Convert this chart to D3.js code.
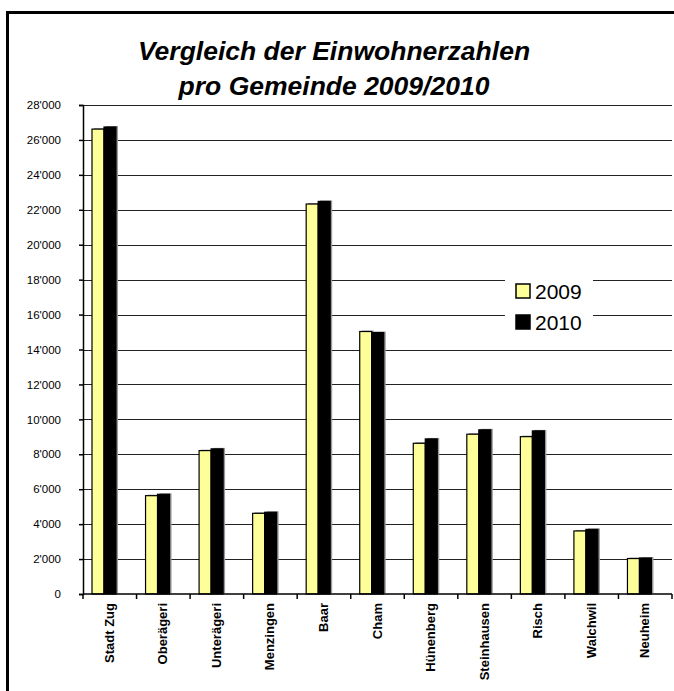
<!DOCTYPE html>
<html>
<head>
<meta charset="utf-8">
<script src="https://unpkg.com/d3@7/dist/d3.min.js"></script>
<style>
  html, body { margin: 0; padding: 0; background: #fff; overflow: hidden; }
  svg { display: block; font-family: Arial, "Liberation Sans", sans-serif; }
</style>
</head>
<body>
<div id="chart"></div>
<script>
// data
const gemeinden = ["Stadt Zug", "Oberägeri", "Unterägeri", "Menzingen", "Baar", "Cham",
                   "Hünenberg", "Steinhausen", "Risch", "Walchwil", "Neuheim"];
const years = ["2009", "2010"];
const values2009 = [26620, 5630, 8210, 4620, 22330, 15030, 8630, 9150, 9010, 3610, 2030];
const values2010 = [26740, 5710, 8310, 4680, 22480, 14970, 8880, 9400, 9340, 3700, 2060];
const yTicks = d3.range(0, 28001, 2000);
const colors = { "2009": "#ffff99", "2010": "#000000" };

const W = 674, H = 691;
const margin = { top: 105, right: 2, bottom: 97, left: 83 };

const svg = d3.select("#chart").append("svg")
  .attr("width", W)
  .attr("height", H);

// outer frame: only left and top edges are inside the picture
svg.append("path")
  .attr("d", `M7.5,${H + 10}V12.5H${W + 10}`)
  .attr("fill", "none")
  .attr("stroke", "#000")
  .attr("stroke-width", 3);

// title
const title = svg.append("text")
  .attr("text-anchor", "middle")
  .attr("font-weight", "bold")
  .attr("font-style", "italic")
  .attr("font-size", 26.5);
title.append("tspan").attr("x", 334).attr("y", 60).text("Vergleich der Einwohnerzahlen");
title.append("tspan").attr("x", 334).attr("y", 95).text("pro Gemeinde 2009/2010");

const x0 = d3.scaleBand()
  .domain(gemeinden)
  .range([margin.left, W - margin.right]);

const x1 = d3.scaleBand()
  .domain(years)
  .range([9, 33]);

const y = d3.scaleLinear()
  .domain([0, 28000])
  .range([H - margin.bottom, margin.top]);

// gridlines
svg.append("g")
  .selectAll("line")
  .data(yTicks.filter(d => d > 0))
  .join("line")
    .attr("x1", margin.left)
    .attr("x2", W - margin.right)
    .attr("y1", d => Math.round(y(d)) + 0.5)
    .attr("y2", d => Math.round(y(d)) + 0.5)
    .attr("stroke", "#222")
    .attr("stroke-width", 1);

// bars
const rows = gemeinden.map((g, i) => ({ name: g, vals: [
  { year: "2009", v: values2009[i] },
  { year: "2010", v: values2010[i] }
]}));

const groups = svg.append("g")
  .selectAll("g")
  .data(rows)
  .join("g")
    .attr("transform", d => `translate(${x0(d.name)},0)`);

// shadow
groups.selectAll("rect.shadow")
  .data(d => d.vals)
  .join("rect")
    .attr("class", "shadow")
    .attr("x", d => x1(d.year) + 2)
    .attr("y", d => y(d.v) - 1)
    .attr("width", x1.bandwidth())
    .attr("height", d => y(0) - y(d.v))
    .attr("fill", "#999");

groups.selectAll("rect.bar")
  .data(d => d.vals)
  .join("rect")
    .attr("class", "bar")
    .attr("x", d => x1(d.year))
    .attr("y", d => y(d.v))
    .attr("width", x1.bandwidth())
    .attr("height", d => y(0) - y(d.v))
    .attr("fill", d => colors[d.year])
    .attr("stroke", "#000")
    .attr("stroke-width", 1.2);

// y axis
const fmt = d => d3.format(",")(d).replace(/,/g, "'");
const yAxis = svg.append("g")
  .attr("transform", `translate(${margin.left},0)`)
  .call(d3.axisLeft(y).tickValues(yTicks).tickFormat(fmt).tickSize(4).tickPadding(18));
yAxis.select(".domain").attr("stroke-width", 1.5);
yAxis.selectAll(".tick line").attr("stroke-width", 1.5);
yAxis.selectAll(".tick text")
  .attr("font-family", "Arial, 'Liberation Sans', sans-serif")
  .attr("font-size", 11.5)
  .attr("fill", "#000");

// x axis (ticks on the category boundaries)
const xAxis = svg.append("g")
  .attr("transform", `translate(0,${y(0)})`);
xAxis.append("line")
  .attr("x1", margin.left).attr("x2", W - margin.right)
  .attr("stroke", "#000").attr("stroke-width", 1.5);
const bounds = gemeinden.map(g => x0(g)).concat([x0.range()[1]]);
xAxis.selectAll("line.tick")
  .data(bounds)
  .join("line")
    .attr("class", "tick")
    .attr("x1", d => d).attr("x2", d => d)
    .attr("y1", 0).attr("y2", 5)
    .attr("stroke", "#000").attr("stroke-width", 1.5);
xAxis.selectAll("text")
  .data(gemeinden)
  .join("text")
    .attr("transform", d => `translate(${x0(d) + x0.bandwidth() / 2 + 4},9) rotate(-90)`)
    .attr("text-anchor", "end")
    .attr("font-weight", "bold")
    .attr("font-size", 13)
    .text(d => d);

// legend
const legend = svg.append("g").attr("transform", "translate(505,265)");
legend.append("rect")
  .attr("width", 88).attr("height", 74)
  .attr("fill", "#fff");
years.forEach((yr, i) => {
  const row = legend.append("g").attr("transform", `translate(11,${19 + i * 31})`);
  row.append("rect")
    .attr("width", 14).attr("height", 14)
    .attr("fill", colors[yr])
    .attr("stroke", "#000")
    .attr("stroke-width", 1.5);
  row.append("text")
    .attr("x", 19).attr("y", 15)
    .attr("font-size", 21)
    .text(yr);
});
</script>
</body>
</html>
